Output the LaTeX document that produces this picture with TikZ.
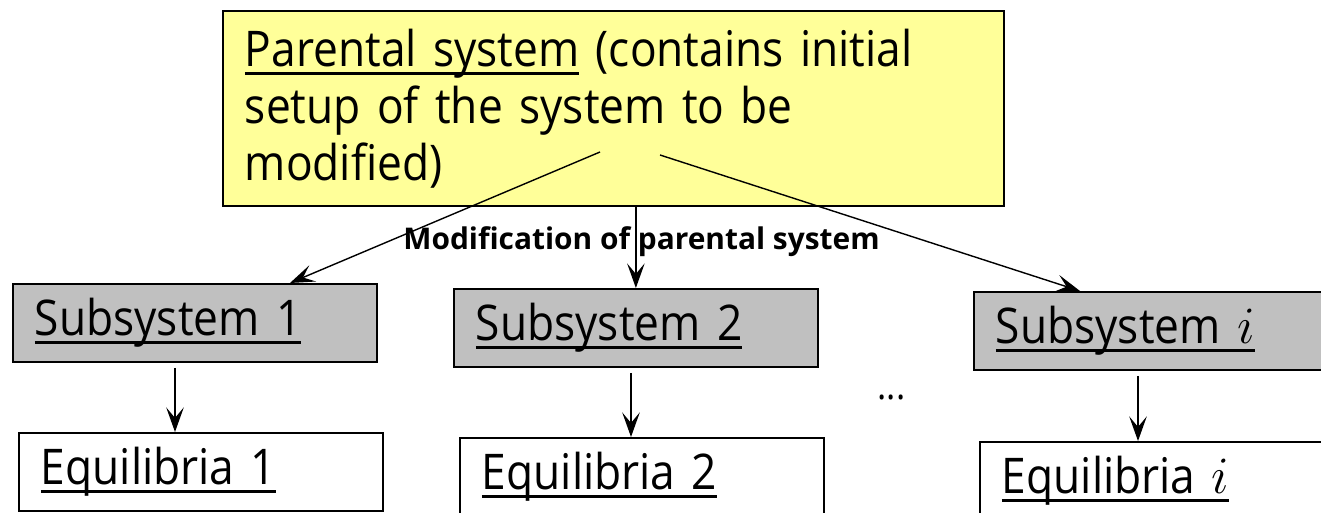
\documentclass[tikz,border=0pt]{standalone}
\usepackage{fontspec}
\setmainfont{Open Sans}[FakeStretch=0.9,WordSpace=0.85]
\newfontfamily\labelfont{Open Sans}
\usetikzlibrary{positioning,arrows.meta}
\definecolor{parentyellow}{HTML}{FFFF99}
\definecolor{subgray}{HTML}{C0C0C0}
\newcommand{\undl}[1]{\setbox0=\hbox{#1}\rlap{\rule[-0.17cm]{\wd0}{0.055cm}}\box0\relax}
\newcommand{\idx}{\scalebox{1.2}{$i$}}
\tikzset{
	flow/.style={>={Stealth[length=14pt,width=10pt,inset=6pt]},line width=0.8pt},
	box/.style={rectangle,draw,line width=1pt,inner xsep=0.44cm,inner ysep=0pt,
		minimum height=1.56cm,text width=6.4cm,align=left,
		font=\fontsize{28}{32}\selectfont,anchor=north west},
	parental/.style={box,fill=parentyellow,minimum height=3.9cm,text width=14.74cm,
		font=\fontsize{28}{32.4}\selectfont},
	subsystem/.style={box,fill=subgray},
	equilibria/.style={box,fill=white},
	modlabel/.style={font=\labelfont\bfseries\fontsize{17}{20}\selectfont,anchor=base}
}

\begin{document}
\begin{tikzpicture}[flow]
	\useasboundingbox (0,0) rectangle (26.42,-10.26);
	
	\node[parental] (parent) at (4.44,-0.2) {\undl{Parental system} (contains initial\\ setup of the system to be\\ modified)};
	\node[subsystem] (sub1) at (0.24,-5.66) {\undl{Subsystem 1}};
	\node[subsystem] (sub2) at (9.06,-5.76) {\undl{Subsystem 2}};
	\node[subsystem] (subi) at (19.46,-5.82) {\undl{Subsystem \idx}};
	\node[equilibria] (eq1) at (0.36,-8.64) {\undl{Equilibria 1}};
	\node[equilibria] (eq2) at (9.18,-8.74) {\undl{Equilibria 2}};
	\node[equilibria] (eqi) at (19.58,-8.82) {\undl{Equilibria \idx}};
	\node[modlabel] (modlbl) at (12.83,-5.0) {Modification of parental system};
	\node[font=\fontsize{22}{26}\selectfont] (dots) at (17.83,-7.95) {...};
	
	\coordinate (fromleft) at (12.0,-3.04);
	\coordinate (fromright) at (13.2,-3.1);
	
	\path[->] (fromleft) edge ([xshift=5.56cm]sub1.north west);
	\path[->] (parent.south -| sub2.north) edge (sub2.north);
	\path[->] (fromright) edge ([xshift=2.14cm]subi.north west);
	%\path[->] (parent) edge (sub2);
	
	\path[->] ([xshift=3.26cm,yshift=-0.1cm]sub1.south west) edge ([xshift=3.26cm]sub1.south west |- eq1.north);
	\path[->] ([xshift=3.56cm,yshift=-0.1cm]sub2.south west) edge ([xshift=3.56cm]sub2.south west |- eq2.north);
	\path[->] ([xshift=3.3cm,yshift=-0.1cm]subi.south west) edge ([xshift=3.3cm]subi.south west |- eqi.north);
\end{tikzpicture}
\end{document}
